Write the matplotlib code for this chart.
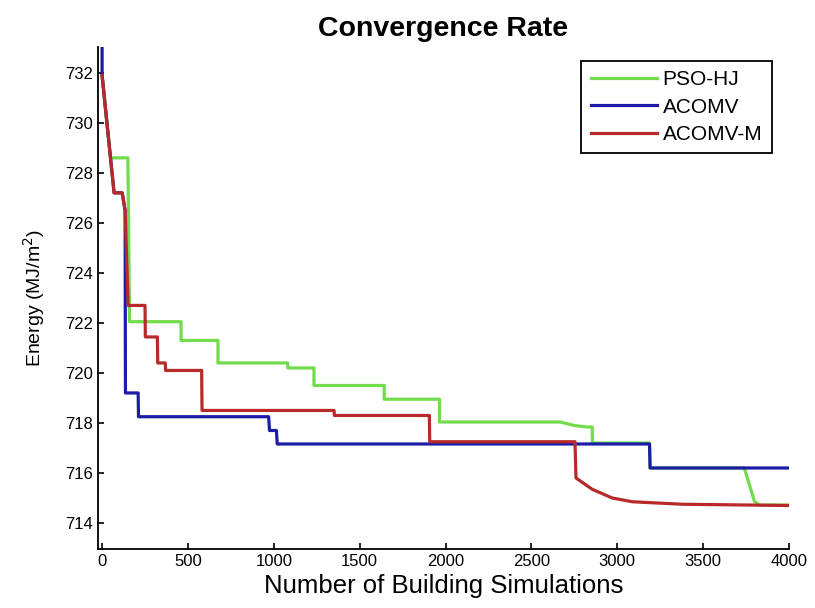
import matplotlib
matplotlib.use("Agg")
import matplotlib.pyplot as plt

# Punkte der Konvergenzkurven (Anzahl Simulationen, Energie)
pso_x = [0, 48, 150, 152, 160, 460, 460, 675, 675, 1080, 1082, 1234, 1234, 1643, 1643, 1965, 1965,
         2667, 2750, 2820, 2854, 2856, 3188, 3190, 3740, 3800, 3830, 4000]
pso_y = [731.9, 728.6, 728.6, 727.3, 722.05, 722.05, 721.3, 721.3, 720.4, 720.4, 720.2, 720.2, 719.5,
         719.5, 718.95, 718.95, 718.04, 718.04, 717.9, 717.84, 717.84, 717.2, 717.2, 716.2, 716.2,
         714.85, 714.72, 714.72]

acomv_x = [0, 0, 58, 70, 117, 134, 136, 210, 212, 970, 975, 1015, 1020, 3188, 3192, 4000]
acomv_y = [735, 731.9, 728.0, 727.2, 727.2, 726.5, 719.2, 719.2, 718.25, 718.25, 717.7, 717.7,
           717.16, 717.16, 716.2, 716.2]

acomvm_x = [0, 58, 70, 117, 134, 152, 250, 252, 322, 324, 368, 370, 580, 582, 1351, 1353, 1906,
            1908, 2754, 2760, 2854, 2971, 3088, 3380, 4000]
acomvm_y = [731.9, 728.0, 727.2, 727.2, 726.5, 722.7, 722.7, 721.44, 721.44, 720.4, 720.4, 720.1,
            720.1, 718.5, 718.5, 718.3, 718.3, 717.25, 717.25, 715.8, 715.35, 715.0, 714.85, 714.75,
            714.7]

labels = ['PSO-HJ', 'ACOMV', 'ACOMV-M']

plt.rcParams['font.family'] = ['Liberation Sans', 'DejaVu Sans']

fig = plt.figure(figsize=(8.15, 6.08), dpi=100)
ax = fig.add_axes([0.120, 0.097, 0.848, 0.826])

ax.plot(pso_x, pso_y, color='#72dc4c', lw=2.3, label=labels[0])
ax.plot(acomv_x, acomv_y, color='#1c1ca8', lw=2.3, label=labels[1])
ax.plot(acomvm_x, acomvm_y, color='#b82a2a', lw=2.3, label=labels[2])

ax.set_xlim(-25, 4000)
ax.set_ylim(712.96, 733.04)
ax.set_xticks(range(0, 4001, 500))
ax.set_yticks(range(714, 733, 2))
ax.tick_params(direction='in', length=4, width=1.2, labelsize=12)
for s in ['top', 'right']:
    ax.spines[s].set_visible(False)
for s in ['left', 'bottom']:
    ax.spines[s].set_linewidth(1.3)

ax.set_title('Convergence Rate', fontsize=20.5, fontweight='bold', pad=8)
ax.set_xlabel('Number of Building Simulations', fontsize=18.5, labelpad=4)
ax.set_ylabel('Energy (MJ/m$^2$)', fontsize=14, labelpad=13)

leg = ax.legend(loc='upper right', bbox_to_anchor=(0.981, 0.98), fontsize=15, handlelength=3.2,
                handletextpad=0.25, labelspacing=0.4, fancybox=False, framealpha=1,
                borderpad=0.45, borderaxespad=0.2)
leg.get_frame().set_edgecolor('black')
leg.get_frame().set_linewidth(1.3)

fig.savefig('out.png', dpi=100)
